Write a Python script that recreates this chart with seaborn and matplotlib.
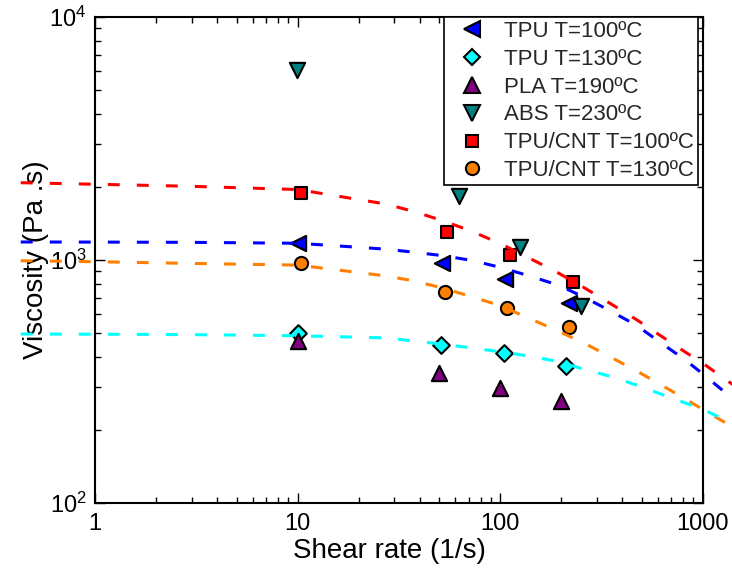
import matplotlib
matplotlib.use("Agg")
import matplotlib.pyplot as plt
from matplotlib.lines import Line2D
from matplotlib.ticker import FixedLocator, FixedFormatter
import seaborn as sns

sns.set_style("ticks")
plt.rcParams.update({
    "font.family": ["Liberation Sans", "DejaVu Sans"],
    "mathtext.default": "regular",
    "axes.axisbelow": False,
    "axes.edgecolor": "black",
    "axes.linewidth": 1.5,
    "xtick.direction": "in",
    "ytick.direction": "in",
    "xtick.top": True,
    "xtick.bottom": True,
    "ytick.left": True,
    "ytick.right": True,
    "xtick.color": "black",
    "ytick.color": "black",
    "xtick.major.size": 7,
    "ytick.major.size": 7,
    "xtick.minor.size": 4,
    "ytick.minor.size": 4,
    "xtick.major.width": 1.0,
    "ytick.major.width": 1.0,
    "xtick.minor.width": 1.0,
    "ytick.minor.width": 1.0,
    "xtick.major.pad": 7,
    "ytick.major.pad": 6,
    "xtick.labelsize": 17,
    "ytick.labelsize": 17,
    "xtick.minor.visible": True,
    "ytick.minor.visible": True,
})

# Measured viscosity (Pa.s) vs shear rate (1/s)
tpu100_rate = [10.0, 51.7, 106, 220]
tpu100_visc = [1175, 968, 836, 667]
tpu130_rate = [10.1, 51.3, 104, 211]
tpu130_visc = [499, 447, 416, 367]
pla190_rate = [10.0, 49.8, 100, 199]
pla190_visc = [466, 344, 298, 263]
abs230_rate = [9.9, 63.0, 126, 250]
abs230_visc = [6050, 1833, 1135, 647]
cnt100_rate = [10.4, 54.8, 112, 229]
cnt100_visc = [1892, 1300, 1049, 809]
cnt130_rate = [10.4, 53.3, 108, 220]
cnt130_visc = [968, 738, 637, 530]

# Model fit curves (dashed)
fit_rate = [0.43, 1, 3, 10, 27, 37, 52, 72, 100, 140, 193, 260, 350, 470, 620, 820, 1000, 1410]
fit_cnt100 = [2080, 2050, 2010, 1950, 1702, 1589, 1452, 1315, 1169, 1016, 886, 769, 662, 569, 488, 418, 376, 307]
fit_tpu100 = [1186, 1185, 1182, 1172, 1109, 1078, 1042, 997, 933, 859, 789, 703, 617, 539, 457, 388, 340, 268]
fit_cnt130 = [993, 984, 968, 953, 861, 822, 767, 707, 649, 574, 510, 455, 399, 350, 307, 268, 243, 205]
fit_tpu130 = [496, 495, 493, 488, 478, 465, 450, 435, 419, 402, 382, 355, 332, 306, 281, 258, 243, 212]

x_ticks = [1, 10, 100, 1000]
x_tick_labels = ["1", "10", "100", "1000"]

labels = ["TPU T=100ºC", "TPU T=130ºC", "PLA T=190ºC", "ABS T=230ºC",
          "TPU/CNT T=100ºC", "TPU/CNT T=130ºC"]

fig = plt.figure(figsize=(7.32, 5.74), dpi=100)
ax = fig.add_axes([95 / 732, 71 / 574, 607.7 / 732, 486 / 574])

dash = (0, (3.9, 5.6))
fits = [
    (fit_cnt100, "#ff0000"),
    (fit_tpu100, "#0000ff"),
    (fit_cnt130, "#ff8000"),
    (fit_tpu130, "#00ffff"),
]
for vals, col in fits:
    sns.lineplot(x=fit_rate, y=vals, ax=ax, color=col, linewidth=2.2,
                 linestyle=dash, sort=False, estimator=None,
                 clip_on=False, zorder=3)

series = [
    (tpu100_rate, tpu100_visc, "<", "#0000ff", 11),
    (tpu130_rate, tpu130_visc, "D", "#00ffff", 8.5),
    (pla190_rate, pla190_visc, "^", "#800080", 11),
    (abs230_rate, abs230_visc, "v", "#008080", 11),
    (cnt100_rate, cnt100_visc, "s", "#ff0000", 8.5),
    (cnt130_rate, cnt130_visc, "o", "#ff8000", 9.5),
]
handles = []
for (xs, ys, mk, col, ms), lab in zip(series, labels):
    sns.scatterplot(x=xs, y=ys, ax=ax, marker=mk, s=ms ** 2, color=col,
                    edgecolor="black", linewidth=1.5, zorder=2)
    handles.append(Line2D([], [], linestyle="none", marker=mk, markersize=ms,
                          markerfacecolor=col, markeredgecolor="black",
                          markeredgewidth=1.5))

ax.set_xscale("log")
ax.set_yscale("log")
ax.set_xlim(1, 1000)
ax.set_ylim(100, 10000)

ax.xaxis.set_major_locator(FixedLocator(x_ticks))
ax.xaxis.set_major_formatter(FixedFormatter(x_tick_labels))

ax.set_xlabel("Shear rate (1/s)", fontsize=20, color="black")
ax.set_ylabel("Viscosity (Pa .s)", fontsize=20, color="black")
ax.xaxis.set_label_coords(0.4846, -0.072)
ax.yaxis.set_label_coords(-0.075, 0.5)

leg = ax.legend(handles, labels, loc="upper right",
                bbox_to_anchor=((698 - 95) / 607.7, 1.0), borderaxespad=0,
                fontsize=16, frameon=True, fancybox=False, framealpha=1,
                edgecolor="black", borderpad=0.17, labelspacing=0.31,
                handlelength=2.18, handletextpad=0.38)
leg.get_frame().set_linewidth(1.2)

fig.savefig("out.png", dpi=100)
